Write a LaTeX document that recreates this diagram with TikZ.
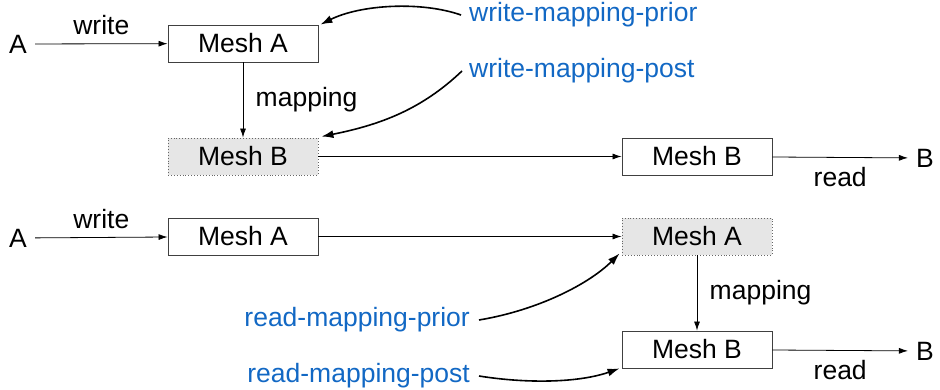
\documentclass[tikz,border=0pt]{standalone}
\usepackage{fontspec}
\setmainfont{Liberation Sans}
\usetikzlibrary{arrows.meta}
\definecolor{hookblue}{RGB}{18,104,196}
\definecolor{meshgray}{RGB}{230,230,230}
\begin{document}
\begin{tikzpicture}[x=1pt,y=-1pt,
  every node/.style={font=\fontsize{26.5}{31}\selectfont},
  mesh/.style={draw=black!75, line width=0.9pt, minimum width=150pt, minimum height=37pt, inner sep=0pt},
  tmpmesh/.style={mesh, fill=meshgray, draw=black!60, dotted},
  flow/.style={line width=0.8pt, -{Latex[length=9pt,width=6pt]}},
  hook/.style={line width=1.6pt, -{Latex[length=12pt,width=8pt]}},
  hooktext/.style={text=hookblue, inner sep=2pt},
  endpoint/.style={inner sep=8pt}]
\useasboundingbox (0,0) rectangle (940,390);

% write-side mapping
\node[endpoint] (a1) at (18,44) {A};
\node[mesh] (wa) at (243,43.5) {Mesh A};
\node[tmpmesh] (wb) at (243,156.5) {Mesh B};
\node[mesh] (rb1) at (697,156.5) {Mesh B};
\node[endpoint] (b1) at (925,158) {B};
\node[hooktext, anchor=west] (wprior) at (467,15) {write-mapping-prior};
\node[hooktext, anchor=west] (wpost) at (467,71) {write-mapping-post};

\draw[flow] (a1) -- node[midway, above=5pt] {write} (wa);
\draw[flow] (wa) -- node[midway, right=9pt] {mapping} (wb);
\draw[flow] (wb) -- (rb1);
\draw[flow] (rb1) -- node[midway, below=6pt] {read} (b1);
\draw[hook] ([xshift=-6pt]wprior.west) .. controls +(-40,-14) and +(40,-20) .. ([xshift=2pt]wa.north east);
\draw[hook] ([xshift=-5pt]wpost.west) .. controls +(-40,38) and +(60,-12) .. ([xshift=3pt,yshift=1pt]wb.north east);

% read-side mapping
\node[endpoint] (a2) at (18,238) {A};
\node[mesh] (ra) at (243,236.5) {Mesh A};
\node[tmpmesh] (rta) at (697,236.5) {Mesh A};
\node[mesh] (rb2) at (697,349.5) {Mesh B};
\node[endpoint] (b2) at (925,351) {B};
\node[hooktext, anchor=east] (rprior) at (472,320) {read-mapping-prior};
\node[hooktext, anchor=east] (rpost) at (472,376) {read-mapping-post};

\draw[flow] (a2) -- node[midway, above=5pt] {write} (ra);
\draw[flow] (ra) -- (rta);
\draw[flow] (rta) -- node[midway, right=9pt] {mapping} (rb2);
\draw[flow] (rb2) -- node[midway, below=6pt] {read} (b2);
\draw[hook] ([xshift=7pt]rprior.east) .. controls +(60,-10) and +(-30,30) .. ([xshift=-2pt,yshift=2pt]rta.south west);
\draw[hook] ([xshift=7pt]rpost.east) .. controls +(50,8) and +(-40,14) .. ([xshift=-2pt]rb2.south west);
\end{tikzpicture}
\end{document}
